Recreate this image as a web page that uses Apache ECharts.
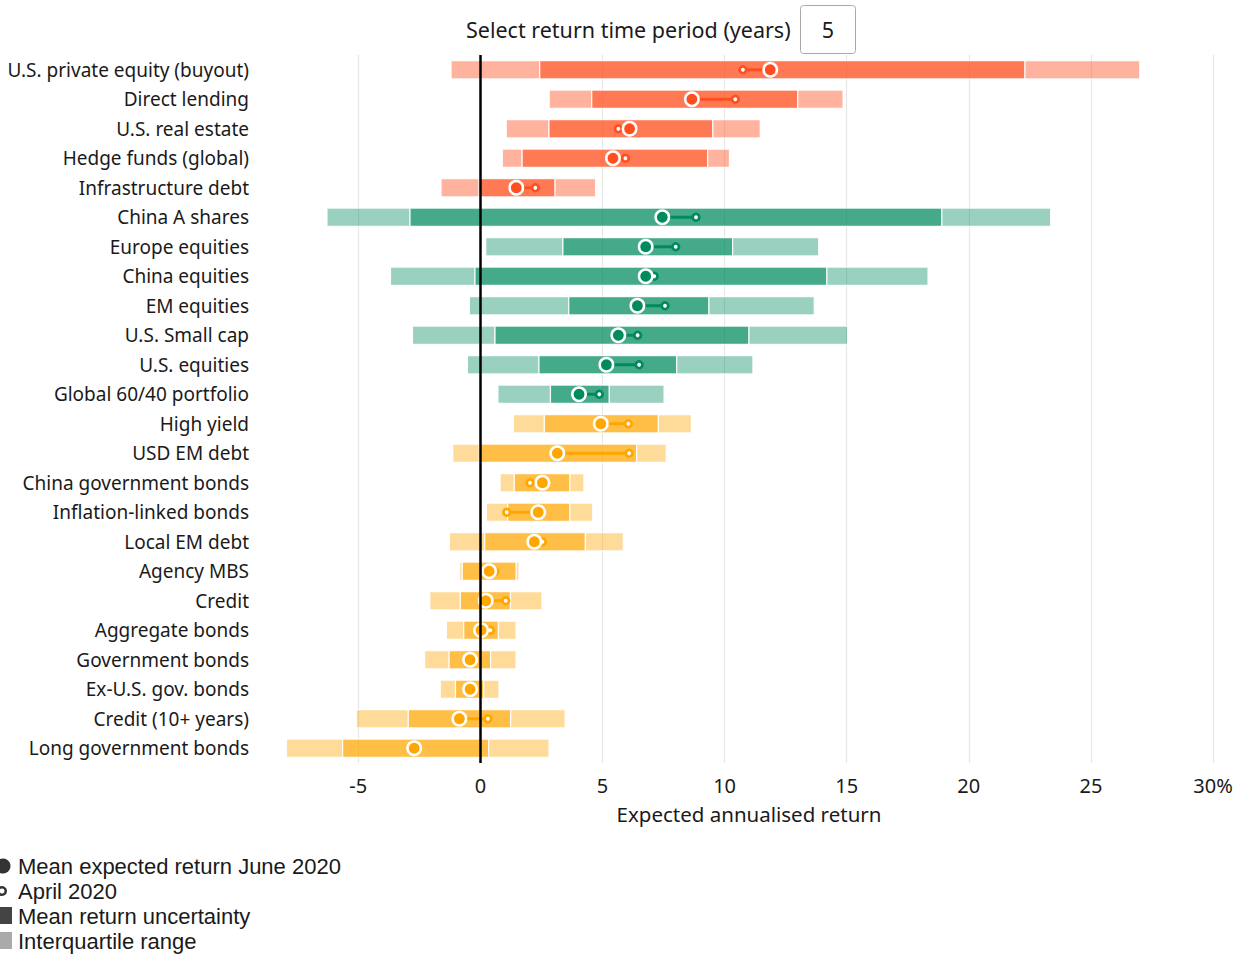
<!DOCTYPE html>
<html>
<head>
<meta charset="utf-8">
<script src="https://cdn.jsdelivr.net/npm/echarts@6/dist/echarts.min.js"></script>
<style>
html, body { margin: 0; padding: 0; background: #fff; }
#main { width: 1240px; height: 956px; }
</style>
</head>
<body>
<div id="main"></div>
<script>
// asset classes, top to bottom
const categories = [
  'U.S. private equity (buyout)', 'Direct lending', 'U.S. real estate', 'Hedge funds (global)',
  'Infrastructure debt', 'China A shares', 'Europe equities', 'China equities', 'EM equities',
  'U.S. Small cap', 'U.S. equities', 'Global 60/40 portfolio', 'High yield', 'USD EM debt',
  'China government bonds', 'Inflation-linked bonds', 'Local EM debt', 'Agency MBS', 'Credit',
  'Aggregate bonds', 'Government bonds', 'Ex-U.S. gov. bonds', 'Credit (10+ years)',
  'Long government bonds'
];
// colour group of each row
const assetGroup = [
  'private', 'private', 'private', 'private', 'private',
  'equity', 'equity', 'equity', 'equity', 'equity', 'equity', 'equity',
  'fixed', 'fixed', 'fixed', 'fixed', 'fixed', 'fixed', 'fixed', 'fixed', 'fixed', 'fixed', 'fixed', 'fixed'
];
// interquartile range (light band)
const iqrLow = [-1.2, 2.82, 1.06, 0.9, -1.61, -6.28, 0.22, -3.68, -0.45, -2.78, -0.53, 0.72,
  1.35, -1.13, 0.81, 0.25, -1.27, -0.85, -2.07, -1.39, -2.28, -1.64, -5.08, -7.94];
const iqrHigh = [27.0, 14.85, 11.46, 10.2, 4.72, 23.35, 13.85, 18.33, 13.67, 15.04, 11.16, 7.52,
  8.64, 7.61, 4.24, 4.6, 5.85, 1.58, 2.52, 1.46, 1.46, 0.76, 3.47, 2.81];
// mean return uncertainty (dark band)
const uncertLow = [2.43, 4.56, 2.81, 1.71, -0.05, -2.88, 3.38, -0.22, 3.62, 0.6, 2.4, 2.87,
  2.62, -0.04, 1.39, 1.12, 0.18, -0.74, -0.82, -0.68, -1.28, -1.02, -2.95, -5.64];
const uncertHigh = [22.3, 13.0, 9.52, 9.31, 3.06, 18.9, 10.33, 14.19, 9.36, 11.0, 8.04, 5.28,
  7.29, 6.4, 3.67, 3.67, 4.3, 1.47, 1.23, 0.74, 0.42, 0.14, 1.24, 0.34];
// mean expected return
const meanJune2020 = [11.87, 8.66, 6.11, 5.43, 1.47, 7.45, 6.77, 6.77, 6.43, 5.65, 5.16, 4.04,
  4.93, 3.15, 2.54, 2.37, 2.21, 0.36, 0.22, 0.03, -0.42, -0.42, -0.86, -2.71];
const meanApril2020 = [10.75, 10.44, 5.65, 5.94, 2.25, 8.83, 8.0, 7.12, 7.56, 6.44, 6.5, 4.87,
  6.06, 6.09, 2.03, 1.08, 2.54, 0.6, 1.04, 0.41, -0.42, -0.42, 0.31, -2.71];

const xTicks = [-5, 0, 5, 10, 15, 20, 25, 30];

const groupColors = {
  private: { light: 'rgba(255,79,31,0.43)', dark: 'rgba(255,79,31,0.76)', mark: '#ff4f1f' },
  equity: { light: 'rgba(0,138,94,0.40)', dark: 'rgba(0,138,94,0.73)', mark: '#008a5e' },
  fixed: { light: 'rgba(255,166,0,0.40)', dark: 'rgba(255,166,0,0.73)', mark: '#ffa600' }
};

const FONT = 'Noto Sans';
const LEGEND_FONT = 'Liberation Sans';

const rangeData = categories.map((c, i) => [i, iqrLow[i], uncertLow[i], uncertHigh[i], iqrHigh[i]]);
const meanData = categories.map((c, i) => [i, meanJune2020[i], meanApril2020[i]]);

function renderRange(params, api) {
  const row = api.value(0);
  const col = groupColors[assetGroup[row]];
  const h = api.size([0, 1])[1] * 0.62;
  const seg = (a, b, fill) => {
    const p0 = api.coord([a, row]);
    const p1 = api.coord([b, row]);
    return {
      type: 'rect',
      shape: { x: p0[0], y: p0[1] - h / 2, width: p1[0] - p0[0], height: h },
      style: { fill: fill, stroke: 'rgba(255,255,255,0.9)', lineWidth: 1.2 }
    };
  };
  return {
    type: 'group',
    children: [
      seg(api.value(1), api.value(2), col.light),
      seg(api.value(2), api.value(3), col.dark),
      seg(api.value(3), api.value(4), col.light)
    ]
  };
}

function renderMean(params, api) {
  const row = api.value(0);
  const c = groupColors[assetGroup[row]].mark;
  const june = api.coord([api.value(1), row]);
  const april = api.coord([api.value(2), row]);
  return {
    type: 'group',
    children: [
      { type: 'line', shape: { x1: april[0], y1: april[1], x2: june[0], y2: june[1] }, style: { stroke: c, lineWidth: 3 } },
      { type: 'circle', shape: { cx: april[0], cy: april[1], r: 3.3 }, style: { fill: '#fff', stroke: c, lineWidth: 2.8 } },
      { type: 'circle', shape: { cx: june[0], cy: june[1], r: 6.7 }, style: { fill: c, stroke: '#fff', lineWidth: 2.5 } }
    ]
  };
}

// legend rows: text + centre y
const legendText = (text, y) => ({
  type: 'text',
  style: {
    x: 18, y: y, text: text, fontSize: 22,
    verticalAlign: 'middle', fill: '#1a1a1a', fontFamily: LEGEND_FONT
  }
});

const myChart = echarts.init(document.getElementById('main'), null, { renderer: 'svg' });

const option = {
  animation: false,
  textStyle: { fontFamily: FONT },
  grid: { left: 285, right: 27, top: 55, bottom: 193, containLabel: false },
  xAxis: {
    type: 'value',
    min: -8,
    max: 30,
    splitNumber: 8,
    name: 'Expected annualised return',
    nameLocation: 'middle',
    nameGap: 40,
    nameTextStyle: { fontSize: 20.5, color: '#1a1a1a', fontFamily: FONT },
    axisLine: { show: false },
    axisTick: { show: false },
    axisLabel: {
      fontSize: 20,
      color: '#1a1a1a',
      margin: 12,
      showMinLabel: false,
      formatter: v => (xTicks.indexOf(v) < 0 ? '' : (v === 30 ? '30%' : String(v)))
    },
    splitLine: { show: true, showMinLine: false, lineStyle: { color: '#e6e6e6', width: 1.2 } }
  },
  yAxis: {
    type: 'category',
    inverse: true,
    data: categories,
    axisLine: { show: false },
    axisTick: { show: false },
    splitLine: { show: false },
    axisLabel: { fontSize: 19, color: '#1a1a1a', margin: 36, fontFamily: FONT }
  },
  series: [
    {
      name: 'ranges',
      type: 'custom',
      renderItem: renderRange,
      encode: { x: [1, 2, 3, 4], y: 0 },
      data: rangeData,
      z: 2
    },
    {
      name: 'zero',
      type: 'scatter',
      data: [],
      z: 3,
      markLine: {
        silent: true,
        symbol: 'none',
        label: { show: false },
        lineStyle: { color: '#000', width: 2.5, type: 'solid' },
        data: [{ xAxis: 0 }]
      }
    },
    {
      name: 'means',
      type: 'custom',
      renderItem: renderMean,
      encode: { x: [1, 2], y: 0 },
      data: meanData,
      z: 4
    }
  ],
  graphic: [
    {
      type: 'text',
      style: { x: 466, y: 29, verticalAlign: 'middle', text: 'Select return time period (years)', fontSize: 21.5, fill: '#1a1a1a', fontFamily: FONT }
    },
    {
      type: 'rect',
      shape: { x: 800.5, y: 5.5, width: 55, height: 48, r: 3 },
      style: { fill: '#fff', stroke: '#aaa', lineWidth: 1 }
    },
    {
      type: 'text',
      style: { x: 828, y: 29, align: 'center', verticalAlign: 'middle', text: '5', fontSize: 21.5, fill: '#1a1a1a', fontFamily: FONT }
    },
    // legend
    { type: 'circle', shape: { cx: 3, cy: 866, r: 7.5 }, style: { fill: '#333' } },
    legendText('Mean expected return June 2020', 866),
    { type: 'circle', shape: { cx: 2, cy: 891, r: 3.8 }, style: { fill: '#fff', stroke: '#333', lineWidth: 2.5 } },
    legendText('April 2020', 891),
    { type: 'rect', shape: { x: 0, y: 907, width: 12, height: 17 }, style: { fill: '#444' } },
    legendText('Mean return uncertainty', 916),
    { type: 'rect', shape: { x: 0, y: 932, width: 12, height: 17 }, style: { fill: '#aaa' } },
    legendText('Interquartile range', 941)
  ]
};

myChart.setOption(option, true);
window.addEventListener('resize', () => {
  if (myChart) {
    myChart.resize();
  }
});
</script>
</body>
</html>
